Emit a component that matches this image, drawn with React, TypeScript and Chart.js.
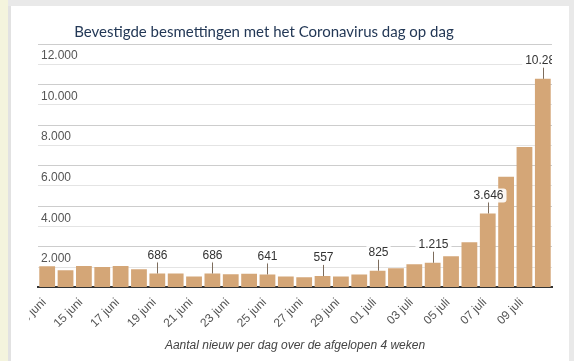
import React, { useEffect, useRef } from 'react';
import { Chart, registerables } from 'chart.js';

Chart.register(...registerables);

const chartTitle = 'Bevestigde besmettingen met het Coronavirus dag op dag';
const captionText = 'Aantal nieuw per dag over de afgelopen 4 weken';

const dates = [
  '13 juni', '14 juni', '15 juni', '16 juni', '17 juni', '18 juni', '19 juni',
  '20 juni', '21 juni', '22 juni', '23 juni', '24 juni', '25 juni', '26 juni',
  '27 juni', '28 juni', '29 juni', '30 juni', '01 juli', '02 juli', '03 juli',
  '04 juli', '05 juli', '06 juli', '07 juli', '08 juli', '09 juli', '10 juli',
];

const newCases = [
  1040, 840, 1055, 1005, 1055, 890, 686,
  680, 540, 686, 655, 675, 641, 540,
  495, 557, 540, 640, 825, 940, 1140,
  1215, 1540, 2230, 3646, 5450, 6920, 10282,
];

const annotatedDates = ['19 juni', '22 juni', '25 juni', '28 juni', '01 juli', '04 juli', '07 juli', '10 juli'];

const yMax = 12000;
const yStep = 1000;
const yLabelStep = 2000;

const fmt = (n: number) => String(Math.round(n)).replace(/\B(?=(\d{3})+(?!\d))/g, '.');

const FONT = '"Liberation Sans", Arial, sans-serif';

const decoPlugin = {
  id: 'deco',
  beforeDraw(chart: any) {
    const { ctx } = chart;
    ctx.save();
    ctx.beginPath();
    ctx.rect(29, 0, chart.width - 29, chart.height);
    ctx.clip();
  },
  afterDatasetsDraw(chart: any) {
    const { ctx, chartArea } = chart;
    const meta = chart.getDatasetMeta(0);
    ctx.save();
    ctx.beginPath();
    ctx.rect(29, 0, chartArea.right - 29, chart.height);
    ctx.clip();
    ctx.font = '12px ' + FONT;
    ctx.textAlign = 'center';
    ctx.textBaseline = 'middle';
    annotatedDates.forEach((d) => {
      const i = dates.indexOf(d);
      const el = meta.data[i];
      if (!el) return;
      const x = Math.round(el.x) + 0.5;
      const y = el.y;
      ctx.strokeStyle = '#7d6c5c';
      ctx.lineWidth = 1;
      ctx.beginPath();
      ctx.moveTo(x, y);
      ctx.lineTo(x, y - 12);
      ctx.stroke();
      const text = fmt(newCases[i]);
      const w = ctx.measureText(text).width;
      ctx.fillStyle = 'rgba(255,255,255,0.9)';
      ctx.beginPath();
      if (ctx.roundRect) ctx.roundRect(x - w / 2 - 3, y - 25, w + 6, 14, 3);
      else ctx.rect(x - w / 2 - 3, y - 25, w + 6, 14);
      ctx.fill();
      ctx.fillStyle = '#333333';
      ctx.fillText(text, x, y - 18);
    });
    ctx.restore();
  },
  afterDraw(chart: any) {
    const { ctx } = chart;
    ctx.restore();
    ctx.save();
    ctx.font = '15px Lato, "Liberation Sans", sans-serif';
    ctx.fillStyle = '#233856';
    ctx.textAlign = 'center';
    ctx.textBaseline = 'middle';
    ctx.fillText(chartTitle, 264, 32);
    ctx.restore();
  },
};

export default function App() {
  const canvasRef = useRef<HTMLCanvasElement | null>(null);

  useEffect(() => {
    if (!canvasRef.current) return;
    Chart.defaults.font.family = FONT;
    const chart = new Chart(canvasRef.current, {
      type: 'bar',
      data: {
        labels: dates,
        datasets: [
          {
            data: newCases,
            backgroundColor: '#d4a677',
            barPercentage: 0.86,
            categoryPercentage: 1,
          },
        ],
      },
      options: {
        animation: false,
        responsive: false,
        maintainAspectRatio: false,
        layout: { padding: { left: 32, right: 22, top: 44, bottom: 4 } },
        plugins: {
          legend: { display: false },
          tooltip: { enabled: false },
          title: { display: false },
        },
        scales: {
          x: {
            type: 'category',
            offset: true,
            grid: { display: false, drawTicks: false },
            border: { display: true, color: '#333333', width: 2 },
            ticks: {
              autoSkip: false,
              maxRotation: 45,
              minRotation: 45,
              padding: 8,
              labelOffset: -3,
              color: '#555555',
              font: { size: 12, family: FONT },
              callback: (_v: any, i: number) => (i % 2 === 0 ? dates[i] : ''),
            },
            title: {
              display: true,
              text: captionText,
              color: '#444444',
              font: { size: 12, style: 'italic', family: FONT },
              padding: { top: 0, bottom: 4 },
            },
          },
          y: {
            min: 0,
            max: yMax,
            border: { display: false },
            grid: {
              drawTicks: false,
              color: (c: any) =>
                c.tick.value === 0
                  ? 'rgba(0,0,0,0)'
                  : c.tick.value % yLabelStep === 0
                  ? '#cdcdcd'
                  : '#e4e4e4',
            },
            ticks: {
              stepSize: yStep,
              mirror: true,
              labelOffset: 12,
              padding: 3,
              color: '#555555',
              font: { size: 12, family: FONT },
              callback: (v: any) => (v > 0 && v % yLabelStep === 0 ? fmt(v) : ''),
            },
          },
        },
      },
      plugins: [decoPlugin],
    });
    return () => chart.destroy();
  }, []);

  return (
    <div style={{ position: 'fixed', left: 0, top: 0, width: 574, height: 361, background: '#e9e9e9', overflow: 'hidden' }}>
      <div style={{ position: 'absolute', left: 0, top: 0, width: 8, height: 361, background: '#f4f4dd' }} />
      <div style={{ position: 'absolute', left: 8, top: 6, width: 561, height: 355, background: '#ffffff', borderLeft: '3px solid #e2e2e2', boxSizing: 'border-box' }} />
      <canvas ref={canvasRef} width={574} height={361} style={{ position: 'absolute', left: 0, top: 0, width: 574, height: 361 }} />
    </div>
  );
}
